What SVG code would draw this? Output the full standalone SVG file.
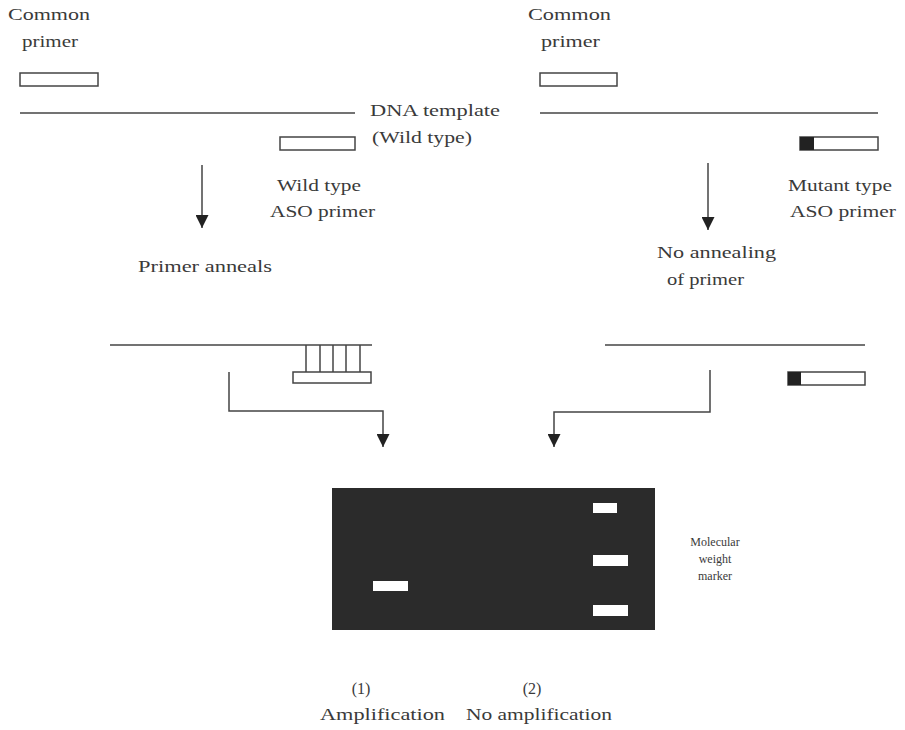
<svg xmlns="http://www.w3.org/2000/svg" width="905" height="730" viewBox="0 0 905 730">
<style>
text{font-family:"Liberation Serif","DejaVu Serif",serif;font-size:16px;fill:#3a3a3a}
.sm{font-size:12px}
.ln{stroke:#444;stroke-width:1.5;fill:none}
.pr{fill:#fff;stroke:#444;stroke-width:1.5}
.band{fill:#fff}
</style>
<defs>
<marker id="ah" viewBox="0 0 10 10" refX="10" refY="5" markerWidth="14" markerHeight="13" markerUnits="userSpaceOnUse" orient="auto">
<path d="M0,0 L10,5 L0,10 Z" fill="#222"/>
</marker>
</defs>
<rect width="905" height="730" fill="#fff"/>

<g id="left-top">
<text x="8" y="20" textLength="82" lengthAdjust="spacingAndGlyphs">Common</text>
<text x="22" y="47" textLength="56" lengthAdjust="spacingAndGlyphs">primer</text>
<rect class="pr" x="20" y="73" width="78" height="13"/>
<line class="ln" x1="20" y1="113" x2="355" y2="113"/>
<rect class="pr" x="280" y="137" width="75" height="13"/>
<text x="370" y="116" textLength="130" lengthAdjust="spacingAndGlyphs">DNA template</text>
<text x="372" y="143" textLength="100" lengthAdjust="spacingAndGlyphs">(Wild type)</text>
<text x="277" y="191" textLength="84" lengthAdjust="spacingAndGlyphs">Wild type</text>
<text x="270" y="217" textLength="105" lengthAdjust="spacingAndGlyphs">ASO primer</text>
<text x="138" y="272" textLength="134" lengthAdjust="spacingAndGlyphs">Primer anneals</text>
</g>

<g id="right-top">
<text x="528" y="20" textLength="83" lengthAdjust="spacingAndGlyphs">Common</text>
<text x="541" y="47" textLength="59" lengthAdjust="spacingAndGlyphs">primer</text>
<rect class="pr" x="540" y="73" width="77" height="13"/>
<line class="ln" x1="540" y1="113" x2="878" y2="113"/>
<rect class="pr" x="800" y="137" width="78" height="13"/>
<rect x="800" y="137" width="14" height="13" fill="#222"/>
<text x="788" y="191" textLength="104" lengthAdjust="spacingAndGlyphs">Mutant type</text>
<text x="790" y="217" textLength="106" lengthAdjust="spacingAndGlyphs">ASO primer</text>
<text x="657" y="258" textLength="119" lengthAdjust="spacingAndGlyphs">No annealing</text>
<text x="667" y="285" textLength="77" lengthAdjust="spacingAndGlyphs">of primer</text>
</g>

<g id="left-bottom">
<line class="ln" x1="110" y1="345" x2="372" y2="345"/>
<g class="ln">
<line x1="306" y1="345" x2="306" y2="372"/>
<line x1="320" y1="345" x2="320" y2="372"/>
<line x1="333" y1="345" x2="333" y2="372"/>
<line x1="346" y1="345" x2="346" y2="372"/>
<line x1="360" y1="345" x2="360" y2="372"/>
</g>
<rect class="pr" x="293" y="372" width="78" height="11"/>
</g>

<g id="right-bottom">
<line class="ln" x1="605" y1="345" x2="865" y2="345"/>
<rect class="pr" x="788" y="372" width="77" height="13"/>
<rect x="788" y="372" width="13" height="13" fill="#222"/>
</g>

<g id="gel">
<rect x="332" y="488" width="323" height="142" fill="#2b2b2b"/>
<rect class="band" x="373" y="581" width="35" height="10"/>
<rect class="band" x="593" y="503" width="24" height="10"/>
<rect class="band" x="593" y="555" width="35" height="11"/>
<rect class="band" x="593" y="605" width="35" height="11"/>
<text class="sm" x="715" y="546" text-anchor="middle">Molecular</text>
<text class="sm" x="715" y="563" text-anchor="middle">weight</text>
<text class="sm" x="715" y="580" text-anchor="middle">marker</text>
</g>

<g id="labels">
<text x="361" y="694" text-anchor="middle">(1)</text>
<text x="320" y="720" textLength="125" lengthAdjust="spacingAndGlyphs">Amplification</text>
<text x="532" y="694" text-anchor="middle">(2)</text>
<text x="466" y="720" textLength="146" lengthAdjust="spacingAndGlyphs">No amplification</text>
</g>

<g id="connectors">
<line class="ln" x1="202" y1="165" x2="202" y2="228" marker-end="url(#ah)"/>
<line class="ln" x1="708" y1="163" x2="708" y2="230" marker-end="url(#ah)"/>
<polyline class="ln" points="229,372 229,411 383,411 383,447" marker-end="url(#ah)"/>
<polyline class="ln" points="710,370 710,412 554,412 554,447" marker-end="url(#ah)"/>
</g>
</svg>
